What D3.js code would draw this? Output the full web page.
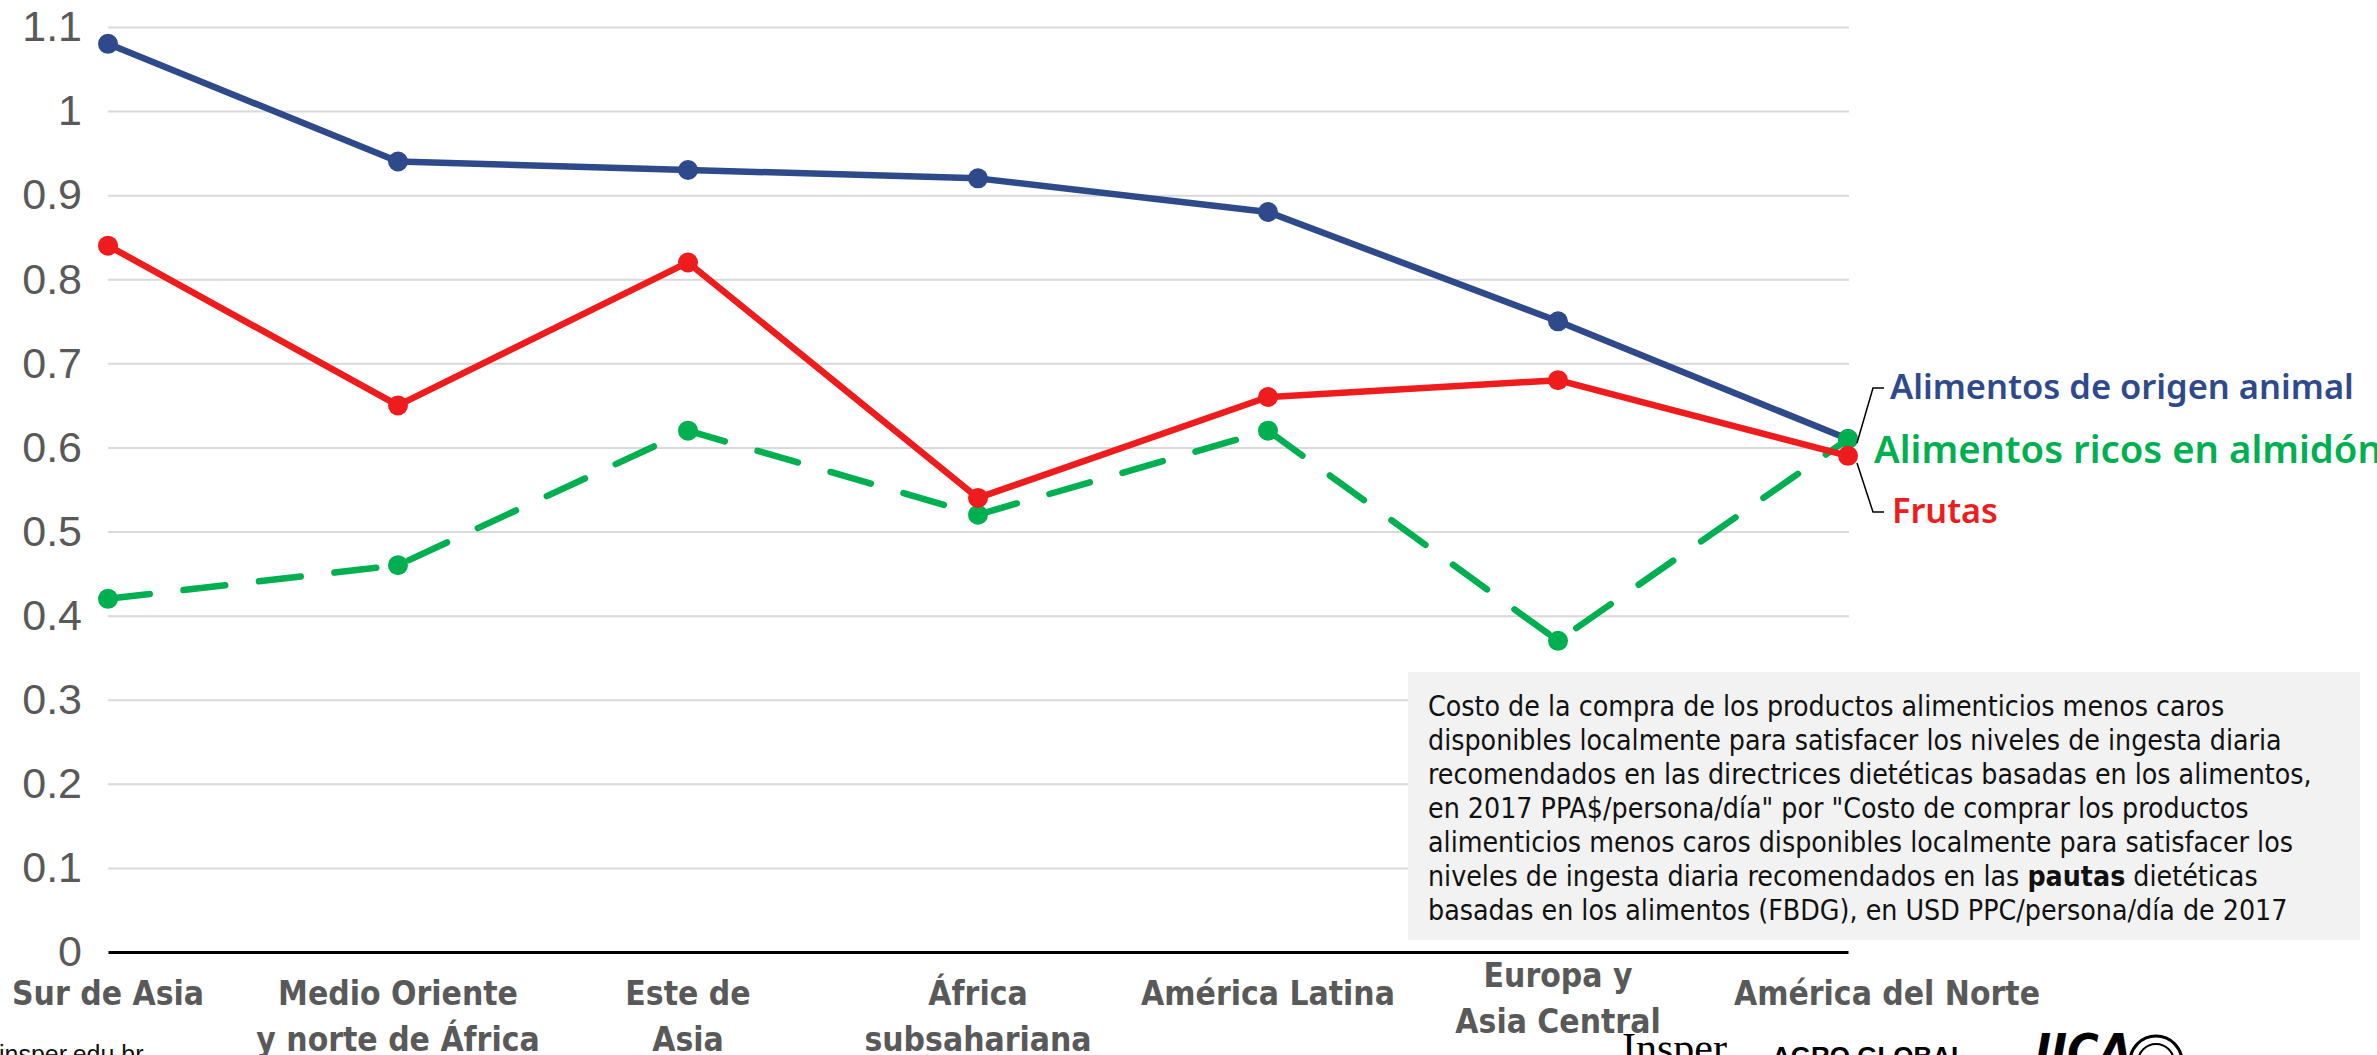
<!DOCTYPE html>
<meta charset="utf-8">
<style>
body { margin:0; background:#fff; overflow:hidden; }
svg { display:block; }
.tick text { fill:#595959; }
</style>
<body>
<svg id="vis" width="2377" height="1055"></svg>
</body>
<script src="https://cdn.jsdelivr.net/npm/d3@7"></script>
<script>
// regions along the x axis (line breaks as in the source)
var categories = [
  ["Sur de Asia"],
  ["Medio Oriente", "y norte de África"],
  ["Este de", "Asia"],
  ["África", "subsahariana"],
  ["América Latina"],
  ["Europa y", "Asia Central"],
  ["América del Norte"]
];
var animal  = [1.08, 0.94, 0.93, 0.92, 0.88, 0.75, 0.61];
var almidon = [0.42, 0.46, 0.62, 0.52, 0.62, 0.37, 0.61];
var frutas  = [0.84, 0.65, 0.82, 0.54, 0.66, 0.68, 0.59];
var yTicks  = [0, 0.1, 0.2, 0.3, 0.4, 0.5, 0.6, 0.7, 0.8, 0.9, 1, 1.1];

var noteLines = [
  [["Costo de la compra de los productos alimenticios menos caros", false]],
  [["disponibles localmente para satisfacer los niveles de ingesta diaria", false]],
  [["recomendados en las directrices dietéticas basadas en los alimentos,", false]],
  [["en 2017 PPA$/persona/día\" por \"Costo de comprar los productos", false]],
  [["alimenticios menos caros disponibles localmente para satisfacer los", false]],
  [["niveles de ingesta diaria recomendados en las ", false], ["pautas", true], [" dietéticas", false]],
  [["basadas en los alimentos (FBDG), en USD PPC/persona/día de 2017", false]]
];

var series = [
  {name: "Alimentos de origen animal", values: animal,  color: "#2f4a8a", dash: null},
  {name: "Alimentos ricos en almidón", values: almidon, color: "#00b050", dash: "42,34"},
  {name: "Frutas",                     values: frutas,  color: "#ee1c1c", dash: null}
];

var narrow = "'Liberation Sans Narrow','Arial Narrow','DejaVu Sans Condensed',sans-serif";

var svg = d3.select("svg");
var plotL = 108, plotR = 1848, plotT = 27, plotB = 952;

var x = d3.scalePoint().domain(d3.range(categories.length)).range([plotL, plotR]);
var y = d3.scaleLinear().domain([0, 1.1]).range([plotB, plotT]);

function fit(sel, target) {
  var w = sel.node().getComputedTextLength();
  var fs = parseFloat(sel.attr("font-size"));
  return fs * target / w;
}

// y axis with gridlines
var yaxis = svg.append("g")
    .attr("transform", "translate(" + plotL + ",0)")
    .call(d3.axisLeft(y).tickValues(yTicks).tickSize(-(plotR - plotL + 1)).tickPadding(26)
      .tickFormat(function(d){ return d === 0 ? "0" : String(+d.toFixed(1)); }));
yaxis.select(".domain").remove();
yaxis.selectAll(".tick line").attr("stroke", "#d9d9d9").attr("stroke-width", 2)
    .filter(function(d){ return d === 0; }).remove();
yaxis.selectAll(".tick text")
    .attr("font-family", "'Liberation Sans',Arial,sans-serif")
    .attr("font-size", 43);

// note box
var box = svg.append("g");
box.append("rect").attr("x", 1408).attr("y", 672).attr("width", 952).attr("height", 268)
    .attr("fill", "#f2f2f2");
var noteText = box.append("text")
    .attr("font-family", narrow).attr("font-size", 26).attr("fill", "#111");
noteLines.forEach(function(parts, i) {
  parts.forEach(function(p, j) {
    var s = noteText.append("tspan").text(p[0]).attr("font-weight", p[1] ? "bold" : null);
    if (j === 0) s.attr("x", 1428).attr("y", 706 + i * 34).attr("dy", "0.35em");
  });
});
var probe = box.append("text").attr("font-family", narrow).attr("font-size", 26).text(noteLines[2][0][0]);
noteText.attr("font-size", fit(probe, 884));
probe.remove();

// x axis
var xaxis = svg.append("g")
    .attr("transform", "translate(0," + plotB + ")")
    .call(d3.axisBottom(x).tickSize(0).tickFormat(""));
xaxis.select(".domain").attr("stroke", "#000").attr("stroke-width", 3);
var labelFs = 42;
var xl = svg.append("g").attr("font-family", narrow).attr("font-weight", "bold")
    .attr("fill", "#595959").attr("text-anchor", "middle");
var xProbe = xl.append("text").attr("font-size", labelFs).text(categories[6][0]);
labelFs = fit(xProbe, 306);
xProbe.remove();
var nudgeX = {6: 39}, nudgeY = {5: -18};
categories.forEach(function(lines, i) {
  var t = xl.append("text").attr("font-size", labelFs);
  lines.forEach(function(line, k) {
    t.append("tspan")
      .attr("x", x(i) + (nudgeX[i] || 0))
      .attr("y", 993 + (nudgeY[i] || 0) + k * 46)
      .attr("dy", "0.35em")
      .text(line);
  });
});

// series
var line = d3.line().x(function(d, i){ return x(i); }).y(function(d){ return y(d); });
series.forEach(function(s) {
  var g = svg.append("g");
  g.append("path").datum(s.values).attr("d", line).attr("fill", "none")
    .attr("stroke", s.color).attr("stroke-width", 6.5)
    .attr("stroke-linecap", "round").attr("stroke-linejoin", "round")
    .attr("stroke-dasharray", s.dash);
  g.selectAll("circle").data(s.values).enter().append("circle")
    .attr("cx", function(d, i){ return x(i); })
    .attr("cy", function(d){ return y(d); })
    .attr("r", 10).attr("fill", s.color);
});

// series labels with leader lines
var lab = svg.append("g").attr("font-family", "'Noto Sans',sans-serif").attr("font-weight", 600);
var labelSpec = [
  {s: 0, x: 1890, y: 387, w: 464},
  {s: 1, x: 1874, y: 450, w: 508},
  {s: 2, x: 1892, y: 511, w: 106}
];
labelSpec.forEach(function(l) {
  var t = lab.append("text").attr("x", l.x).attr("y", l.y).attr("dy", "0.35em")
    .attr("font-size", 36).attr("fill", series[l.s].color).text(series[l.s].name);
  t.attr("font-size", fit(t, l.w));
});
svg.append("path").attr("fill", "none").attr("stroke", "#000").attr("stroke-width", 1.5)
  .attr("d", "M1857,443 L1873,388 L1884,388 M1857,463 L1873,512 L1884,512");

// footer: source and logos (cut by the frame, as in the source)
svg.append("text").attr("x", -1).attr("y", 1063).attr("font-family", "'Liberation Sans',Arial,sans-serif")
  .attr("font-size", 25).attr("fill", "#111").text("insper.edu.br");
svg.append("text").attr("x", 1622).attr("y", 1062).attr("font-family", "'Liberation Serif',serif")
  .attr("font-size", 42).attr("fill", "#000").text("Insper");
svg.append("text").attr("x", 1772).attr("y", 1065).attr("font-family", "'Liberation Sans',Arial,sans-serif")
  .attr("font-weight", "bold").attr("font-size", 26).attr("fill", "#000").text("AGRO GLOBAL");
svg.append("text").attr("x", 2035).attr("y", 1068).attr("font-family", narrow)
  .attr("font-weight", "bold").attr("font-style", "italic").attr("font-size", 48).attr("fill", "#000").text("IICA");
svg.append("circle").attr("cx", 2156).attr("cy", 1062).attr("r", 26).attr("fill", "#fff")
  .attr("stroke", "#000").attr("stroke-width", 3);
svg.append("circle").attr("cx", 2156).attr("cy", 1062).attr("r", 18).attr("fill", "none")
  .attr("stroke", "#000").attr("stroke-width", 2);
</script>
